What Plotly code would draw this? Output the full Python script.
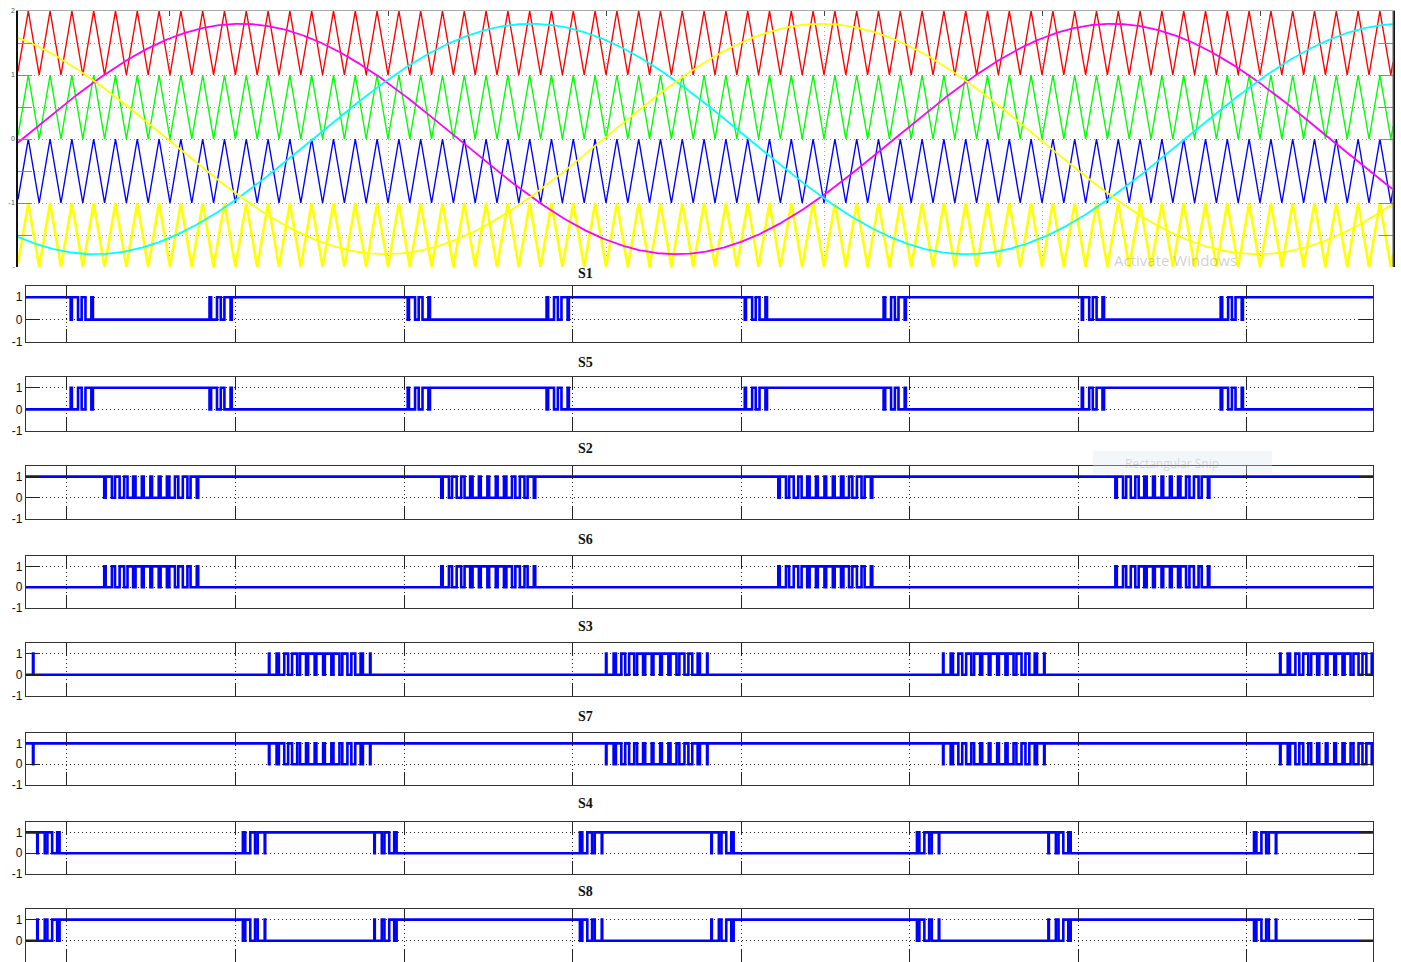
import numpy as np
import plotly.graph_objects as go

W, H = 1401, 962

# ---------------- values ----------------
ref_freq_hz = 50
carrier_period_ms = 0.5            # 40 carrier cycles per reference cycle
ref_amplitude = 1.8
ref_names = ["Va", "Vb", "Vc"]
ref_phase_deg = [-29, -149, 91]
carrier_names = ["Carrier 1", "Carrier 2", "Carrier 3", "Carrier 4"]
carrier_low = [1, 0, -1, -2]
top_t_ms = [1.514, 33.05]
top_ytick_vals = [-2, -1.5, -1, -0.5, 0, 0.5, 1, 1.5, 2]
top_ytick_text = ["-", "", "-1", "", "0", "", "1", "", "2"]
top_xgrid_ms = [5, 10, 15, 20, 25, 30]

gate_names = ["S1", "S5", "S2", "S6", "S3", "S7", "S4", "S8"]
gate_carrier_low = [-1, -1, -2, -2, 1, 1, 0, 0]
gate_inverted = [0, 1, 0, 1, 0, 1, 0, 1]
gate_ref_phase_deg = 0
gate_t_ms = [7.57, 87.5]
gate_xgrid_ms = [10, 20, 30, 40, 50, 60, 70, 80]
gate_ytick_vals = [-1, 0, 1]
gate_ytick_text = ["-1", "0", "1"]

# ---------------- styles / layout constants ----------------
ref_colors = ["#ff00ff", "#00ffff", "#ffff00"]
carrier_colors = ["#ff0000", "#00ff00", "#0000ff", "#ffff00"]
carrier_widths = [1.4, 1.4, 1.4, 2.6]
panel_tops = [286, 377, 466, 556, 643, 733, 822, 909]
panel_bottoms = [342, 431, 519, 608, 696, 785, 874, 962]
title_ys = [274, 363, 448, 539, 626, 716, 803, 891]
DOT = "1px,3px"


def px_x(x):
    return x / W


def px_y(y):
    return 1 - y / H


def reference(t_ms, phase_deg):
    return ref_amplitude * np.sin(2 * np.pi * ref_freq_hz * t_ms / 1000.0 + np.radians(phase_deg))


def carrier(t_ms, low):
    frac = np.mod(t_ms / carrier_period_ms, 1.0)
    return low + 1 - np.abs(2 * frac - 1)


fig = go.Figure()

# ---------------- top panel: carriers + references ----------------
half = carrier_period_ms / 2
tv = np.arange(np.ceil(top_t_ms[0] / half) * half, top_t_ms[1], half)
tv = np.concatenate([[top_t_ms[0]], tv, [top_t_ms[1]]])
for name, low, col, w in zip(carrier_names, carrier_low, carrier_colors, carrier_widths):
    fig.add_trace(go.Scatter(x=tv, y=carrier(tv, low), mode="lines", name=name,
                             line=dict(color=col, width=w), xaxis="x", yaxis="y"))

ts = np.linspace(top_t_ms[0], top_t_ms[1], 1500)
for name, ph, col in zip(ref_names, ref_phase_deg, ref_colors):
    fig.add_trace(go.Scatter(x=ts, y=reference(ts, ph), mode="lines", name=name,
                             line=dict(color=col, width=1.8), xaxis="x", yaxis="y"))

# ---------------- gate signal panels ----------------
tg = np.arange(gate_t_ms[0], gate_t_ms[1], 0.001)
vg = reference(tg, gate_ref_phase_deg)
for i, (name, low, inv) in enumerate(zip(gate_names, gate_carrier_low, gate_inverted)):
    g = (vg > carrier(tg, low)).astype(int)
    if inv:
        g = 1 - g
    ch = np.nonzero(np.diff(g))[0] + 1
    xs = np.concatenate([[tg[0]], tg[ch], [tg[-1]]])
    ys = np.concatenate([[g[0]], g[ch], [g[-1]]])
    k = i + 2
    fig.add_trace(go.Scatter(x=xs, y=ys, mode="lines", name=name, line_shape="hv",
                             line=dict(color="#0000ff", width=2.6),
                             xaxis=f"x{k}", yaxis=f"y{k}"))

layout = dict(
    width=W, height=H, margin=dict(l=0, r=0, t=0, b=0, pad=0, autoexpand=False),
    paper_bgcolor="white", plot_bgcolor="white", showlegend=False,
    font=dict(family="Arial, Liberation Sans, sans-serif", color="#111"),
)

layout["xaxis"] = dict(domain=[px_x(18), px_x(1393)], range=top_t_ms, tickvals=top_xgrid_ms,
                       showticklabels=False, ticks="inside", ticklen=5, tickcolor="#444",
                       side="top", showline=True, linecolor="#aaaaaa", linewidth=1,
                       showgrid=True, gridcolor="#aaaaaa", griddash=DOT, gridwidth=1,
                       zeroline=False, anchor="y", automargin=False)
layout["yaxis"] = dict(domain=[px_y(267), px_y(11)], range=[-2, 2], tickvals=top_ytick_vals,
                       ticktext=top_ytick_text, ticks="inside", ticklen=14, tickcolor="#888",
                       showline=True, linecolor="#111", linewidth=1.5, mirror="ticks",
                       showgrid=True, gridcolor="#999999", griddash=DOT, gridwidth=1,
                       zeroline=False, tickfont=dict(size=7, color="#555"), anchor="x",
                       automargin=False)

for i in range(len(gate_names)):
    k = i + 2
    ydom = [max(0.0, px_y(panel_bottoms[i])), px_y(panel_tops[i])]
    layout[f"xaxis{k}"] = dict(domain=[px_x(26), px_x(1373)], range=gate_t_ms,
                               tickvals=gate_xgrid_ms, showticklabels=False,
                               ticks="inside", ticklen=13, tickcolor="#222", tickwidth=1,
                               showline=True, linecolor="#333", linewidth=1.4, mirror="ticks",
                               showgrid=True, gridcolor="#222", griddash=DOT, gridwidth=1,
                               zeroline=False, anchor=f"y{k}", automargin=False)
    layout[f"yaxis{k}"] = dict(domain=ydom, range=[-1, 1.5], tickvals=gate_ytick_vals,
                               ticktext=gate_ytick_text, ticks="inside", ticklen=14,
                               tickcolor="#222", showline=True, linecolor="#333", linewidth=1.4,
                               mirror="ticks", showgrid=True, gridcolor="#222", griddash=DOT,
                               gridwidth=1, zeroline=False,
                               tickfont=dict(size=12, color="#111"), anchor=f"x{k}",
                               automargin=False)

annotations = []
for name, ty in zip(gate_names, title_ys):
    annotations.append(dict(text=f"<b>{name}</b>", x=px_x(585), y=px_y(ty), xref="paper",
                            yref="paper", showarrow=False, xanchor="center", yanchor="middle",
                            font=dict(family="Liberation Serif, Times New Roman, serif",
                                      size=14, color="#111")))
# screenshot artefacts (faint)
annotations.append(dict(text="Activate Windows", x=px_x(1175), y=px_y(260), xref="paper",
                        yref="paper", showarrow=False, xanchor="center", yanchor="middle",
                        font=dict(family="Open Sans, sans-serif", size=15,
                                  color="rgba(150,150,150,0.45)")))
annotations.append(dict(text="Rectangular Snip", x=px_x(1172), y=px_y(463), xref="paper",
                        yref="paper", showarrow=False, xanchor="center", yanchor="middle",
                        font=dict(family="Open Sans, sans-serif", size=12,
                                  color="rgba(150,150,150,0.35)")))
layout["annotations"] = annotations
layout["shapes"] = [
    dict(type="rect", xref="paper", yref="paper", x0=px_x(1093), x1=px_x(1272),
         y0=px_y(474), y1=px_y(451), fillcolor="rgba(220,232,242,0.35)",
         line=dict(width=0), layer="above"),
    dict(type="line", xref="paper", yref="paper", x0=px_x(1393), x1=px_x(1393),
         y0=px_y(267), y1=px_y(11), line=dict(color="#777", width=1.2)),
]

fig.update_layout(**layout)
fig.write_html("out.html", config={"displayModeBar": False},
               post_script="document.body.style.margin='0';document.body.style.overflow='hidden';")
